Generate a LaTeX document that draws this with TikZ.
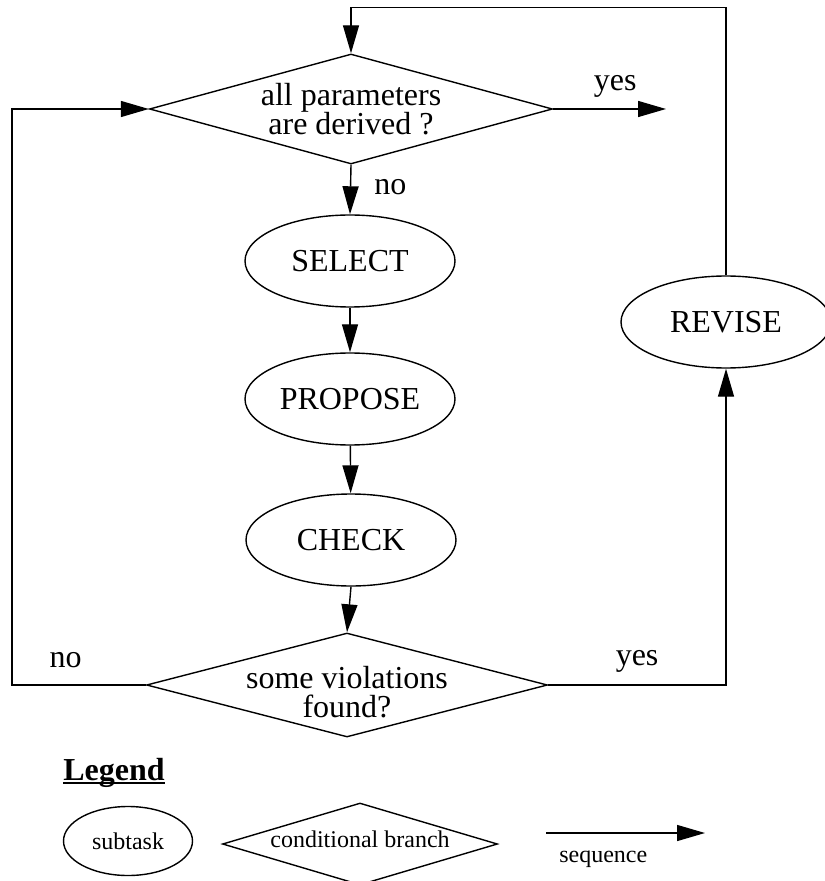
\documentclass[tikz,border=0pt]{standalone}
\usepackage{fontspec}
\setmainfont{Liberation Serif}
\usepackage{tikz}
\usetikzlibrary{shapes.geometric,arrows.meta,positioning,calc}

\begin{document}
\begin{tikzpicture}[
    x=0.5pt, y=-0.5pt,
    every node/.style={align=center},
    subtask/.style={ellipse, draw, line width=0.7pt, minimum width=105pt, minimum height=46pt, inner sep=0pt, font=\fontsize{16}{14.8}\selectfont},
    decision/.style={diamond, draw, line width=0.7pt, aspect=3.66, inner sep=0pt, font=\fontsize{16}{14.8}\selectfont},
    arrow/.style={line width=0.7pt, -{Triangle[length=14pt,width=8pt]}},
    line/.style={line width=0.7pt},
    lbl/.style={inner sep=0pt, font=\fontsize{16}{14.8}\selectfont},
    small/.style={font=\fontsize{12}{14}\selectfont}
]
\useasboundingbox (0,0) rectangle (824,881);

% Main loop
\node[decision, minimum width=201.5pt, minimum height=55pt] (derived) at (351,109) {all parameters\\are derived ?};
\node[subtask] (select) at (350,261) {SELECT};
\node[subtask] (propose) at (350,399) {PROPOSE};
\node[subtask] (check) at (351,540) {CHECK};
\node[decision, minimum width=200.5pt, minimum height=52pt,
      label={[lbl, yshift=-3.5pt]center:{some violations\\found?}}] (violations) at (347,685) {};
\node[subtask] (revise) at (726,322) {REVISE};

% Turning points
\coordinate (done) at (666,109);
\coordinate (top_turn) at (351,7.5);
\coordinate (left_turn) at (12,685);
\coordinate (right_turn) at (726,685);

% Connections
\draw[arrow] (derived.east) -- node[lbl, pos=0.55, above=5.5pt] {yes} (done);
\draw[arrow] (derived.south) -- node[lbl, pos=0.45, right=11.5pt] {no} (select.north);
\draw[arrow] (select) -- (propose);
\draw[arrow] (propose) -- (check);
\draw[arrow] (check.south) -- (violations.north);
\draw[arrow] (violations.east) -- node[lbl, above=6pt] {yes} (right_turn) -- (revise.south);
\draw[arrow] (revise.north) |- (top_turn) -- (derived.north);
\draw[arrow] (violations.west) -- node[lbl, pos=0.6, above=8pt] {no} (left_turn) |- (derived.west);

% Legend
\node[lbl, font=\fontsize{16}{18}\selectfont\bfseries, anchor=base west] (legend_title) at (63,780) {Legend};
\draw[line] ([yshift=-1.5pt]legend_title.base west) -- ([yshift=-1.5pt]legend_title.base east);
\node[subtask, small, minimum width=64.5pt, minimum height=34.5pt] (key_subtask) at (128,841) {subtask};
\node[decision, small, minimum width=137.5pt, minimum height=41pt,
      label={[lbl, small, yshift=2.5pt]center:conditional branch}] (key_branch) at (360,844) {};
\coordinate (key_from) at (546,833);
\coordinate (key_to) at (705,833);
\draw[arrow] (key_from) -- node[lbl, small, pos=0.36, below=8.6pt] {sequence} (key_to);

\end{tikzpicture}
\end{document}
